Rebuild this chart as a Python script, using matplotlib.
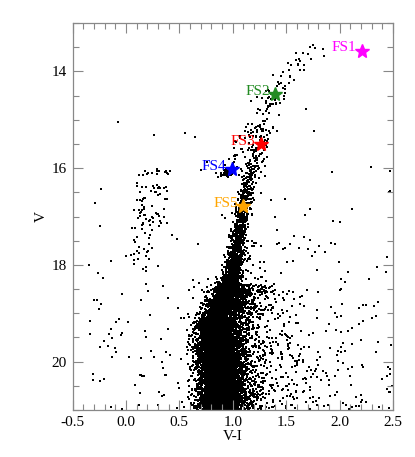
import numpy as np
import matplotlib
matplotlib.use('Agg')
import matplotlib.pyplot as plt

plt.rcParams['font.family'] = ['Liberation Serif', 'DejaVu Serif']
plt.rcParams['axes.unicode_minus'] = False

# fiducial sequence (MS -> RGB tip)
ridge_v = [21.0, 20.5, 20.0, 19.5, 19.2, 18.7, 18.2, 17.8, 17.3, 16.8, 16.5, 16.0, 15.5, 15.0, 14.5, 14.0, 13.7, 13.45]
ridge_vi = [0.89, 0.87, 0.86, 0.84, 0.84, 0.92, 0.99, 1.03, 1.06, 1.09, 1.13, 1.18, 1.24, 1.29, 1.38, 1.54, 1.65, 1.85]
ridge_sig = [0.09, 0.09, 0.085, 0.085, 0.08, 0.065, 0.05, 0.038, 0.035, 0.035, 0.038, 0.045, 0.06, 0.06, 0.06, 0.06, 0.08, 0.10]
# stars per segment between consecutive ridge nodes
ridge_n = [2000, 2000, 1900, 1000, 1200, 700, 280, 240, 170, 90, 85, 60, 42, 30, 22, 12, 8]

# AGB: runs bluer than the RGB above the clump
agb_v = [16.1, 15.5, 15.0]
agb_vi = [0.96, 1.08, 1.18]
agb_n = 28

# horizontal branch / red clump groups
hb_vi_lo = [0.92, 0.84, 0.13, 0.10, 0.03]
hb_vi_hi = [1.00, 0.97, 0.46, 0.40, 0.25]
hb_v_lo = [16.02, 16.10, 16.04, 16.30, 17.20]
hb_v_hi = [16.14, 16.18, 16.16, 17.20, 18.10]
hb_n = [40, 10, 14, 55, 22]

# field contamination per magnitude bin
field_v_lo = [14.5, 16.0, 17.0, 18.0, 19.0, 20.0]
field_v_hi = [16.0, 17.0, 18.0, 19.0, 20.0, 21.0]
field_n = [10, 20, 30, 45, 60, 70]
# redder field sequence behind the cluster
red_v_lo = [17.5, 18.5, 19.5, 20.3]
red_v_hi = [18.5, 19.5, 20.3, 21.0]
red_n = [40, 110, 150, 150]

# named stars
fs_names = ['FS1', 'FS2', 'FS3', 'FS4', 'FS5']
fs_vi = [2.21, 1.40, 1.26, 0.99, 1.10]
fs_v = [13.57, 14.47, 15.50, 16.02, 16.78]
fs_colors = ['#ff00ff', '#228b22', '#ff0000', '#0000ff', '#ffa500']

rng = np.random.default_rng(12)
rv, rc, rs = ridge_v[::-1], ridge_vi[::-1], ridge_sig[::-1]
xs, ys = [], []

for i in range(len(ridge_n)):
    v = rng.uniform(ridge_v[i + 1], ridge_v[i], ridge_n[i])
    xs.append(np.interp(v, rv, rc) + rng.standard_normal(ridge_n[i]) * np.interp(v, rv, rs))
    ys.append(v)

v = rng.uniform(agb_v[-1], agb_v[0], agb_n)
xs.append(np.interp(v, agb_v[::-1], agb_vi[::-1]) + rng.standard_normal(agb_n) * 0.04)
ys.append(v)

# main-sequence wings (binaries, errors), skewed red
n = 1800
v = rng.uniform(18.4, 21.0, n)
xs.append(np.interp(v, rv, rc) + np.abs(rng.standard_normal(n)) * 0.2 - 0.02)
ys.append(v)
n = 600
v = rng.uniform(18.4, 21.0, n)
xs.append(np.interp(v, rv, rc) + rng.standard_normal(n) * 0.14)
ys.append(v)

for a, b, k in zip(red_v_lo, red_v_hi, red_n):
    v = rng.uniform(a, b, k)
    xs.append(np.interp(v, rv, rc) + 0.1 + rng.exponential(0.4, k))
    ys.append(v)

for a, b, c, d, k in zip(hb_vi_lo, hb_vi_hi, hb_v_lo, hb_v_hi, hb_n):
    xs.append(rng.uniform(a, b, k))
    ys.append(rng.uniform(c, d, k))

for a, b, k in zip(field_v_lo, field_v_hi, field_n):
    xs.append(rng.uniform(-0.35, 2.5, k))
    ys.append(rng.uniform(a, b, k))

x = np.concatenate(xs)
y = np.concatenate(ys)

fig = plt.figure(figsize=(4.15, 4.57), dpi=100)
ax = fig.add_axes([0.1747, 0.1028, 0.947 - 0.1747, 0.9497 - 0.1028])
ax.scatter(x, y, s=0.75, c='k', marker='s', linewidths=0)

for name, cx, cy, col in zip(fs_names, fs_vi, fs_v, fs_colors):
    ax.plot(cx, cy, marker='*', ms=10, color=col, mec=col, ls='none', zorder=5)
    ax.annotate(name, (cx, cy), xytext=(-4, 2), textcoords='offset points',
                ha='right', va='center', color=col, fontsize=11, zorder=6)

ax.set_xlim(-0.5, 2.5)
ax.set_ylim(21, 13)
ax.set_xticks(np.arange(-0.5, 2.51, 0.5))
ax.set_xticklabels(['%.1f' % t for t in np.arange(-0.5, 2.51, 0.5)])
ax.set_xticks(np.arange(-0.5, 2.51, 0.1), minor=True)
ax.set_yticks([14, 16, 18, 20])
ax.set_yticks(np.arange(13, 21.01, 0.5), minor=True)
ax.tick_params(which='both', direction='in', top=True, right=True, color='#888888',
               labelsize=11, pad=4)
ax.tick_params(which='major', length=7, width=0.8)
ax.tick_params(which='minor', length=4, width=0.8)
for sp in ax.spines.values():
    sp.set_color('#888888')
    sp.set_linewidth(0.9)
ax.set_xlabel('V-I', fontsize=11, labelpad=1)
ax.set_ylabel('V', fontsize=11, labelpad=3)

fig.savefig('out.png', dpi=100)
